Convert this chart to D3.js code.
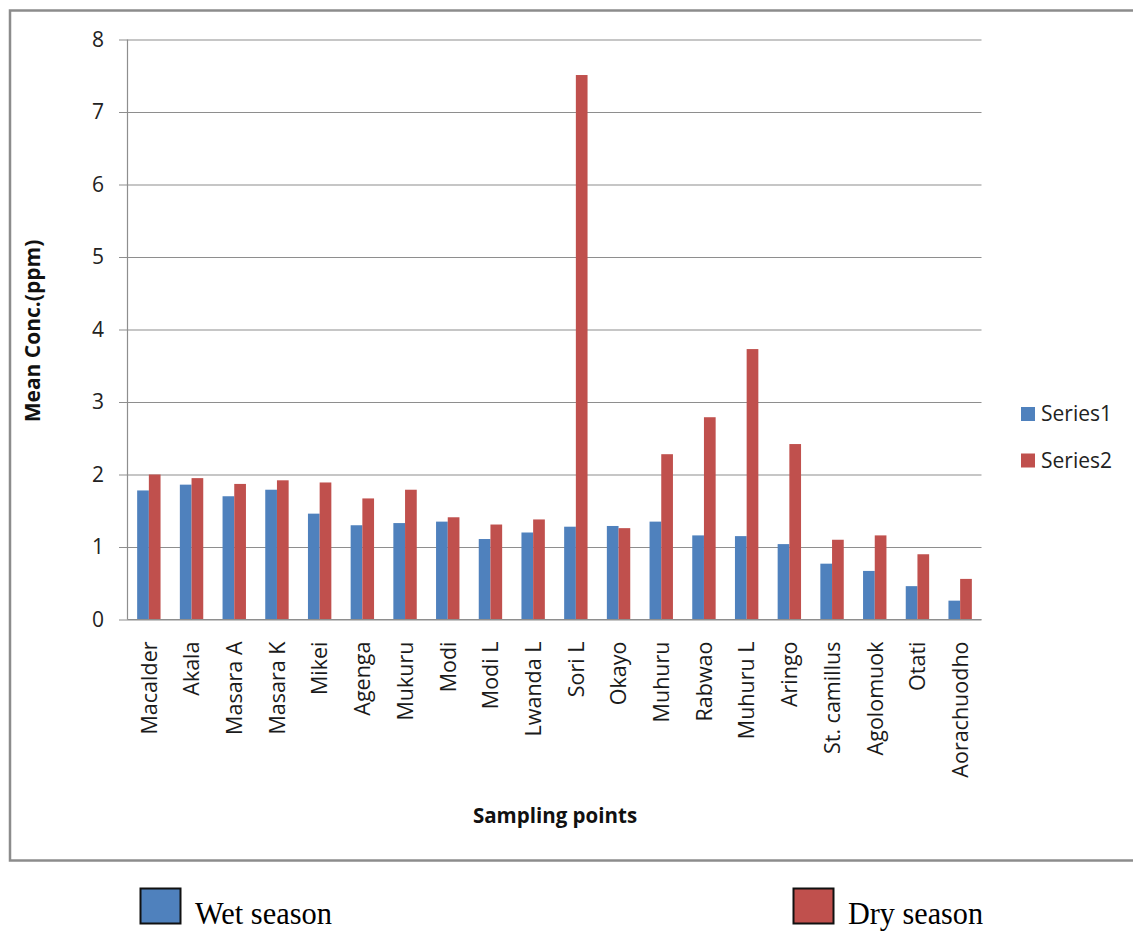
<!DOCTYPE html>
<html>
<head>
<meta charset="utf-8">
<script src="https://cdn.jsdelivr.net/npm/d3@7"></script>
<style>
  html, body { margin: 0; padding: 0; background: #fff; }
  svg { display: block; }
</style>
</head>
<body>
<svg id="chart" width="1133" height="931"></svg>
<script>
const categories = ["Macalder","Akala","Masara A","Masara K","Mikei","Agenga","Mukuru","Modi","Modi L","Lwanda L","Sori L","Okayo","Muhuru","Rabwao","Muhuru L","Aringo","St. camillus","Agolomuok","Otati","Aorachuodho"];
const series1 = [1.78,1.86,1.70,1.79,1.46,1.30,1.33,1.35,1.11,1.20,1.28,1.29,1.35,1.16,1.15,1.04,0.77,0.67,0.46,0.26];
const series2 = [2.00,1.95,1.87,1.92,1.89,1.67,1.79,1.41,1.31,1.38,7.51,1.26,2.28,2.79,3.73,2.42,1.10,1.16,0.90,0.56];
const seriesNames = ["Series1","Series2"];
const seriesColors = ["#4F81BD","#C0504D"];
const yTicks = [0,1,2,3,4,5,6,7,8];
const bottomLegend = ["Wet season","Dry season"];

(function () {
const svg = d3.select("#chart");

// outer frame
svg.append("rect")
  .attr("x", 10).attr("y", 10.5)
  .attr("width", 1140).attr("height", 850)
  .attr("fill", "none").attr("stroke", "#8c8c8c").attr("stroke-width", 2.5);

const pL = 127.5, pR = 981.5, pT = 39.5, pB = 619.5;

const x = d3.scaleBand().domain(categories).range([pL, pR]).paddingInner(0).paddingOuter(0);
const xs = d3.scaleBand().domain(seriesNames).range([0, x.bandwidth()]).paddingInner(0).paddingOuter(0.825);
const y = d3.scaleLinear().domain([0, 8]).range([pB, pT]);

// gridlines + y labels
const yAxis = d3.axisLeft(y).tickValues(yTicks).tickFormat(d3.format("d"))
  .tickSize(-(pR - 119)).tickSizeOuter(0).tickPadding(15);
const gy = svg.append("g").attr("transform", "translate(119,0)").call(yAxis);
gy.select(".domain").remove();
gy.selectAll(".tick line").attr("stroke", "#8e8e8e").attr("stroke-width", 1.2);
gy.selectAll(".tick text")
  .attr("font-family", "'Open Sans', sans-serif").attr("font-size", 21).attr("fill", "#222");

// y axis line
svg.append("line").attr("x1", pL).attr("x2", pL).attr("y1", pT).attr("y2", pB)
  .attr("stroke", "#8e8e8e").attr("stroke-width", 1.2);

// bars
const data = categories.map((c, i) => ({ c, vals: [series1[i], series2[i]] }));
const groups = svg.append("g").selectAll("g").data(data).join("g")
  .attr("transform", d => `translate(${x(d.c)},0)`);
groups.selectAll("rect").data(d => d.vals.map((v, j) => ({ v, s: seriesNames[j], j })))
  .join("rect")
  .attr("x", d => xs(d.s))
  .attr("width", xs.bandwidth())
  .attr("y", d => y(d.v))
  .attr("height", d => y(0) - y(d.v))
  .attr("fill", d => seriesColors[d.j]);

// x axis baseline
svg.append("line").attr("x1", pL).attr("x2", pR).attr("y1", pB).attr("y2", pB)
  .attr("stroke", "#8e8e8e").attr("stroke-width", 1.2);

// x labels
const xAxis = d3.axisBottom(x).tickSize(0).tickSizeOuter(0);
const gx = svg.append("g").attr("transform", `translate(0,${pB})`).call(xAxis);
gx.select(".domain").remove();
gx.selectAll(".tick text")
  .attr("font-family", "'Open Sans', sans-serif").attr("font-size", 21.5).attr("fill", "#1a1a1a")
  .attr("text-anchor", "end")
  .attr("transform", "rotate(-90)")
  .attr("x", -22).attr("y", 0).attr("dy", "0.36em");

// axis titles
svg.append("text")
  .attr("transform", "translate(33,331) rotate(-90)")
  .attr("text-anchor", "middle").attr("dy", "0.35em")
  .attr("font-family", "'Open Sans', sans-serif").attr("font-weight", "bold").attr("font-size", 21)
  .attr("fill", "#111").text("Mean Conc.(ppm)");
svg.append("text")
  .attr("x", 555).attr("y", 816).attr("dy", "0.35em")
  .attr("text-anchor", "middle")
  .attr("font-family", "'Open Sans', sans-serif").attr("font-weight", "bold").attr("font-size", 20.5)
  .attr("fill", "#111").text("Sampling points");

// right legend
const leg = svg.append("g").selectAll("g").data(seriesNames).join("g")
  .attr("transform", (d, i) => `translate(1021,${407 + i * 46.5})`);
leg.append("rect").attr("width", 14).attr("height", 14).attr("fill", (d, i) => seriesColors[i]);
leg.append("text").attr("x", 20).attr("y", 7).attr("dy", "0.35em")
  .attr("font-family", "'Open Sans', sans-serif").attr("font-size", 21).attr("fill", "#222")
  .text(d => d);

// bottom legend
const bl = svg.append("g").selectAll("g").data(bottomLegend).join("g")
  .attr("transform", (d, i) => `translate(${i === 0 ? 140 : 793},888)`);
bl.append("rect").attr("x", 0.5).attr("y", 0.5).attr("width", 40).attr("height", 35)
  .attr("fill", (d, i) => seriesColors[i]).attr("stroke", "#111").attr("stroke-width", 2);
bl.append("text").attr("x", 55).attr("y", 36)
  .attr("font-family", "'Liberation Serif', 'Times New Roman', serif").attr("font-size", 31)
  .attr("fill", "#000")
  .attr("textLength", (d, i) => i === 0 ? 137 : 135).attr("lengthAdjust", "spacingAndGlyphs")
  .text(d => d);
})();
</script>
</body>
</html>
